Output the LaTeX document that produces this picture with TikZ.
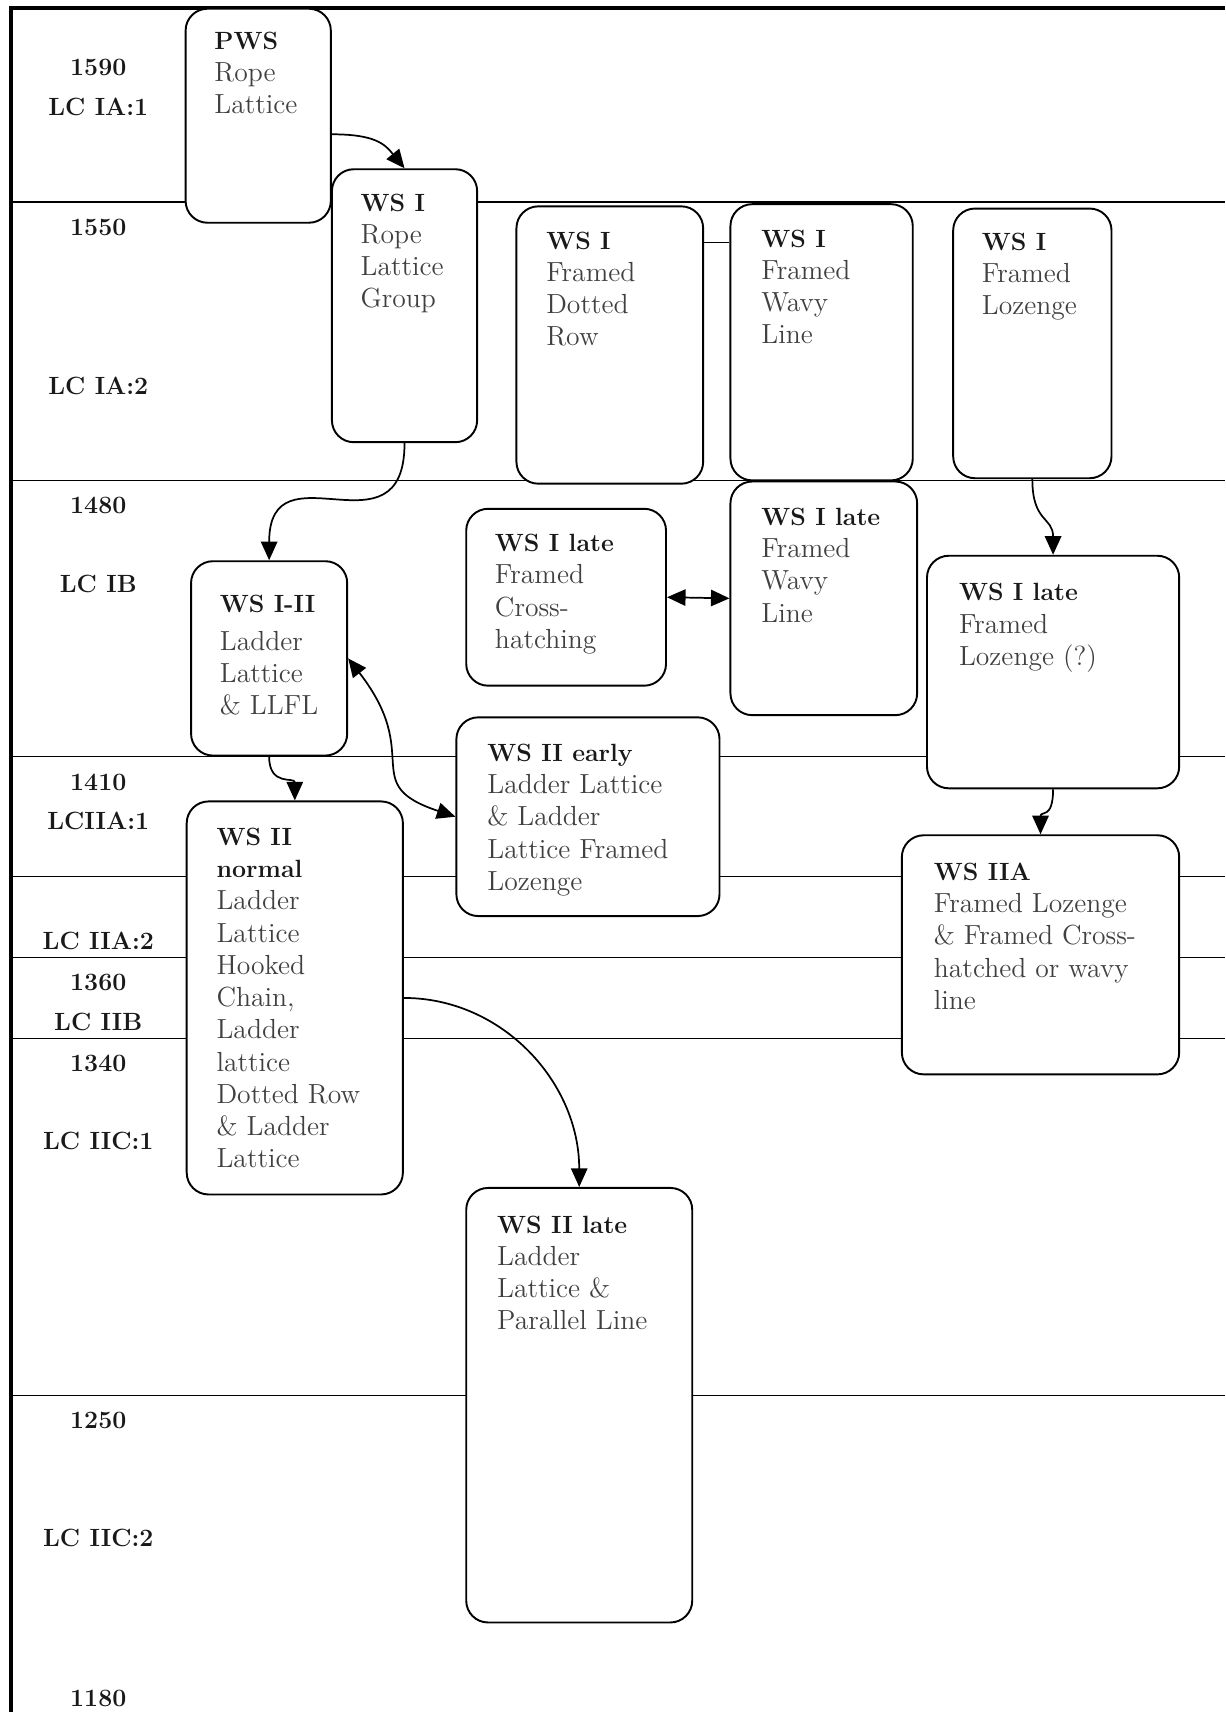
\documentclass[tikz,border=0pt]{standalone}
\usepackage{tikz}
\usetikzlibrary{fit,arrows.meta}

\newcommand{\wstitle}[1]{{\fontsize{13}{16.8}\selectfont\bfseries\color{black!90}#1}}

\begin{document}
\begin{tikzpicture}[x=0.02cm,y=-0.02cm,
    yearline/.style={line width=0.75pt},
    edgeline/.style={line width=2pt},
    ws/.style={draw,fill=white,rounded corners=0.4cm,line width=1pt,inner sep=0pt},
    wstext/.style={anchor=north west,align=left,inner sep=0pt,text=black!75,
      font=\fontsize{14.4}{16.8}\selectfont},
    period/.style={font=\fontsize{13}{15}\selectfont\bfseries,text=black!90},
    link/.style={line width=0.9pt,-{Triangle[length=0.34cm,width=0.3cm]}},
    twoway/.style={line width=0.9pt,{Triangle[length=0.34cm,width=0.3cm]}-{Triangle[length=0.34cm,width=0.3cm]}}]

      \useasboundingbox (0,0) rectangle (1122,1568);

      \foreach \y in {185,440,693,803,877,951,1278}
        \draw[yearline] (10,\y) -- (1122,\y);
      \draw[edgeline] (10,1568) -- (10,7) -- (1122,7);

      \begin{scope}[every node/.style={period}]
        \node (p1590) at (90,62)   {1590};
        \node (pia1)  at (90,98)   {LC IA:1};
        \node (p1550) at (90,208)  {1550};
        \node (pia2)  at (90,353)  {LC IA:2};
        \node (p1480) at (90,463)  {1480};
        \node (pib)   at (90,535)  {LC IB};
        \node (p1410) at (90,717)  {1410};
        \node (piia1) at (90,752)  {LCIIA:1};
        \node (piia2) at (90,862)  {LC IIA:2};
        \node (p1360) at (90,900)  {1360};
        \node (piib)  at (90,936)  {LC IIB};
        \node (p1340) at (90,974)  {1340};
        \node (piic1) at (90,1045) {LC IIC:1};
        \node (p1250) at (90,1301) {1250};
        \node (piic2) at (90,1409) {LC IIC:2};
        \node (p1180) at (90,1556) {1180};
      \end{scope}

      \begin{scope}[every node/.style={ws}]
        \node[fit={(170,8) (303,204)}]     (pws)    {};
        \node[fit={(304,155) (437,405)}]   (rope)   {};
        \node[fit={(473,189) (644,443)}]   (dotted) {};
        \node[fit={(669,187) (836,440)}]   (wavy)   {};
        \node[fit={(873,191) (1018,438)}]  (loz)    {};
        \node[fit={(427,466) (610,628)}]   (cross)  {};
        \node[fit={(669,441) (840,655)}]   (wavyl)  {};
        \node[fit={(849,509) (1080,722)}]  (lozl)   {};
        \node[fit={(175,514) (318,692)}]   (ladder) {};
        \node[fit={(418,657) (659,839)}]   (early)  {};
        \node[fit={(171,734) (369,1094)}]  (normal) {};
        \node[fit={(826,765) (1080,984)}]  (iia)    {};
        \node[fit={(427,1088) (634,1486)}] (late)   {};
      \end{scope}

      \begin{scope}[every node/.style={wstext}]
        \node (pwst)    at (196,29)   {\wstitle{PWS}\\Rope\\Lattice};
        \node (ropet)   at (330,177)  {\wstitle{WS I}\\Rope\\Lattice\\Group};
        \node (dottedt) at (500,212)  {\wstitle{WS I}\\Framed\\Dotted\\Row};
        \node (wavyt)   at (697,210)  {\wstitle{WS I}\\Framed\\Wavy\\Line};
        \node (lozt)    at (899,213)  {\wstitle{WS I}\\Framed\\Lozenge};
        \node (crosst)  at (453,489)  {\wstitle{WS I late}\\Framed\\Cross-\\hatching};
        \node (wavylt)  at (697,465)  {\wstitle{WS I late}\\Framed\\Wavy\\Line};
        \node (lozlt)   at (878,534)  {\wstitle{WS I late}\\Framed\\Lozenge (?)};
        \node (laddert) at (201,545)  {\wstitle{WS I-II}\\[0.1cm]Ladder\\Lattice\\\& LLFL};
        \node (earlyt)  at (446,681)  {\wstitle{WS II early}\\Ladder Lattice\\\& Ladder\\Lattice Framed\\Lozenge};
        \node (normalt) at (198,758)  {\wstitle{WS II}\\\wstitle{normal}\\Ladder\\Lattice\\Hooked\\Chain,\\Ladder\\lattice\\Dotted Row\\\& Ladder\\Lattice};
        \node (iiat)    at (855,790)  {\wstitle{WS IIA}\\Framed Lozenge\\\& Framed Cross-\\hatched or wavy\\line};
        \node (latet)   at (455,1113) {\wstitle{WS II late}\\Ladder\\Lattice \&\\Parallel Line};
      \end{scope}

      \draw[yearline] (dotted.east |- 0,222) -- (wavy.west |- 0,222);

      \draw[link] (pws.east |- 0,123) .. controls +(40,0) and +(-18,-22) .. (rope.north);
      \draw[link] (rope.south) .. controls +(0,108) and +(0,-108) .. (ladder.north);
      \draw[link] (ladder.south) .. controls +(0,28) and +(0,-22) .. (normal.north);
      \draw[twoway] (ladder.east) .. controls +(70,90) and +(-90,-30) .. (early.west);
      \draw[twoway] (cross.east) -- (wavyl.west);
      \draw[link] (loz.south) .. controls +(0,40) and +(0,-35) .. (lozl.north);
      \draw[link] (lozl.south) .. controls +(0,28) and +(0,-22) .. (iia.north);
      \draw[link] (normal.east) .. controls +(90,0) and +(0,-96) .. (late.north);

    \end{tikzpicture}
\end{document}
